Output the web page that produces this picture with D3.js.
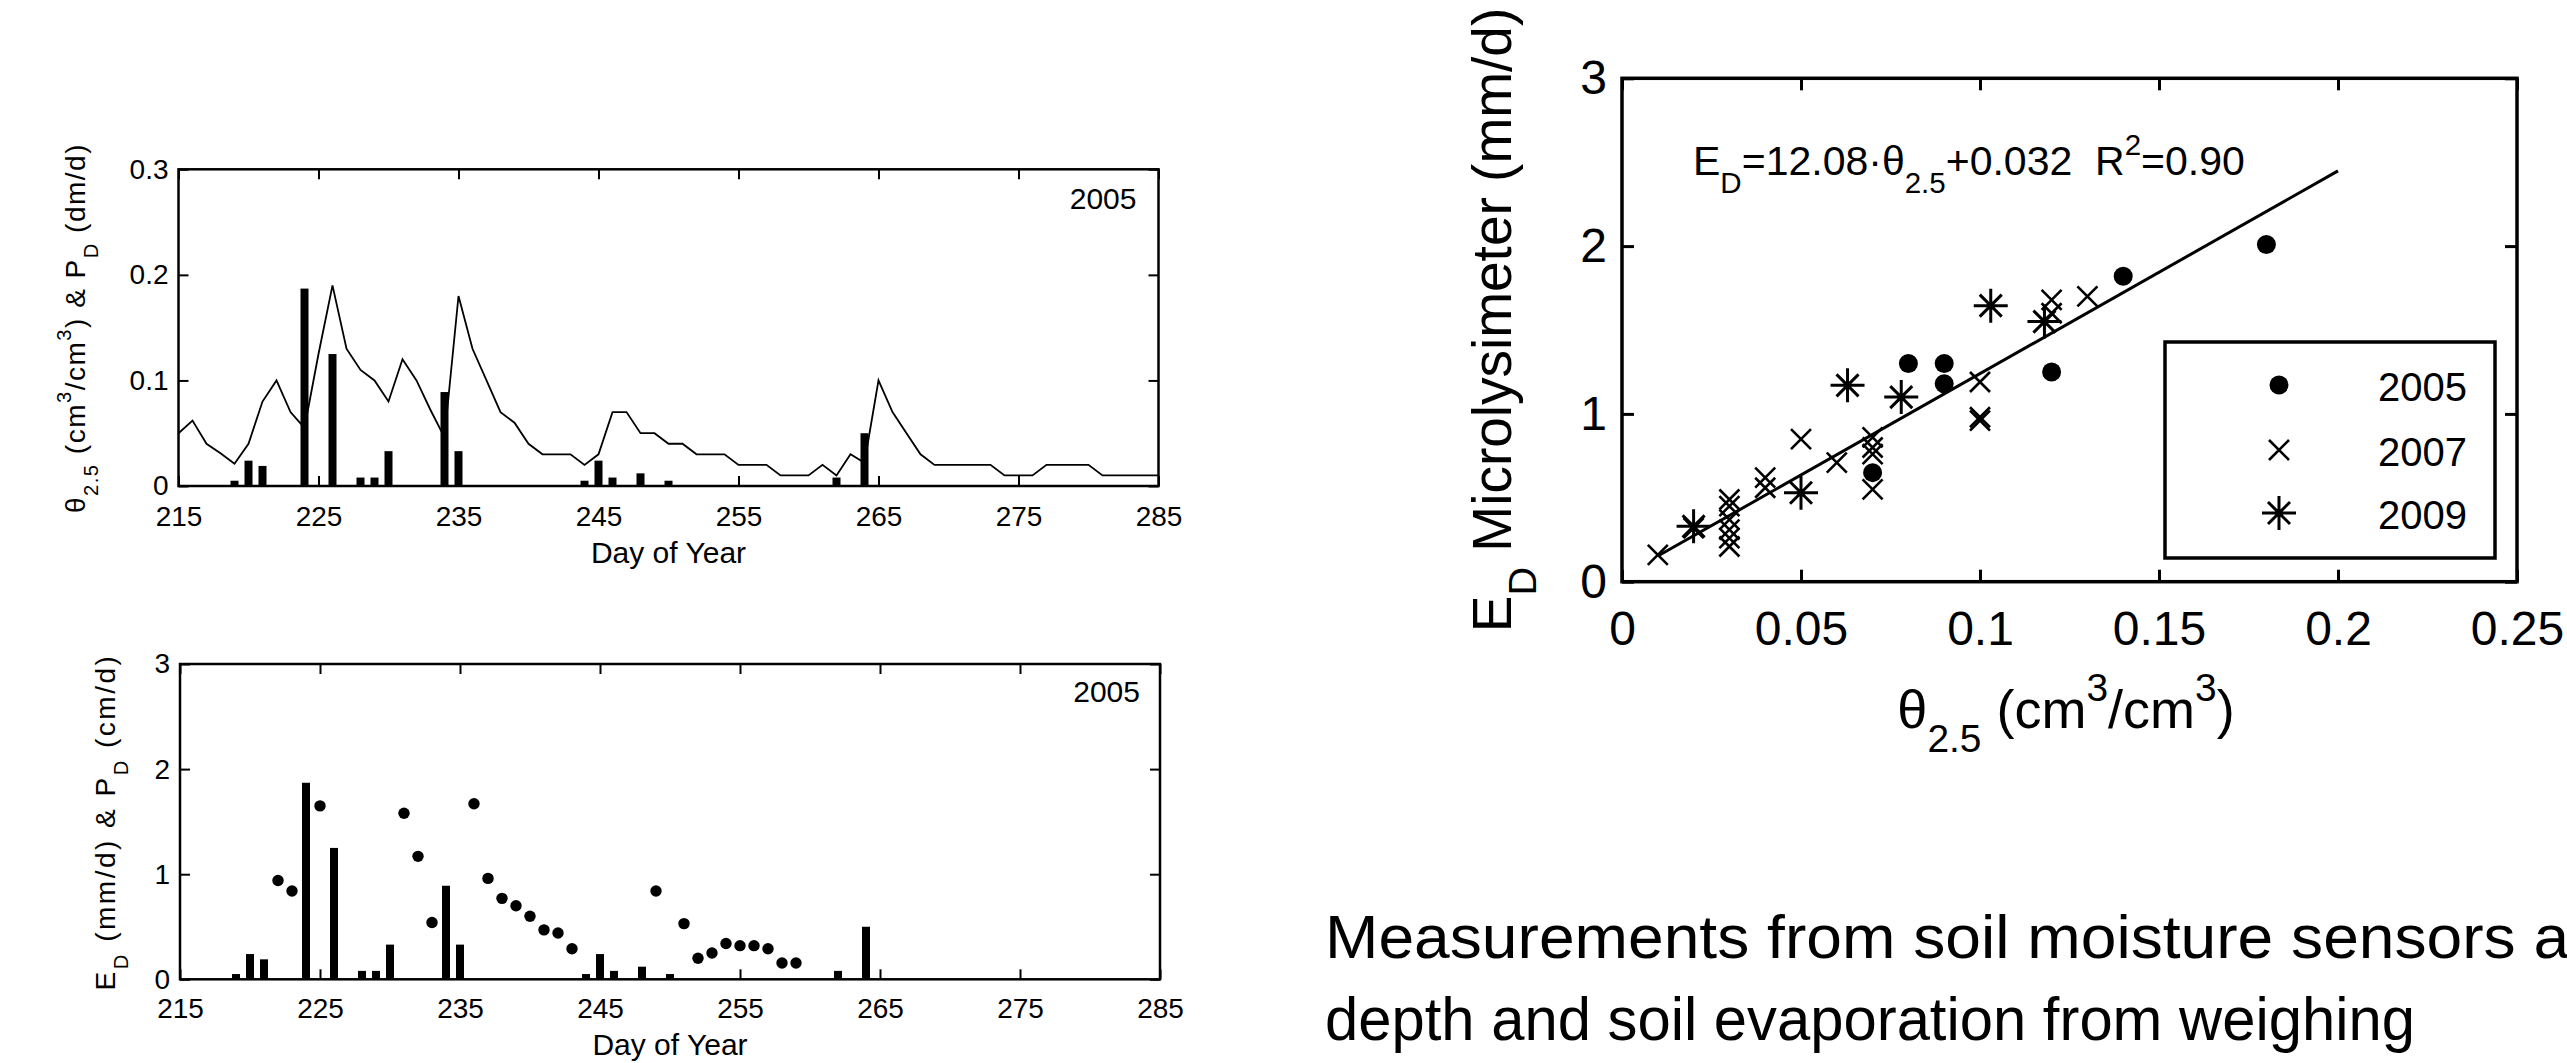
<!DOCTYPE html>
<html>
<head>
<meta charset="utf-8">
<script src="https://cdn.jsdelivr.net/npm/d3@7"></script>
<style>
  body { margin: 0; background: #fff; }
  text { font-family: "Liberation Sans", Arial, sans-serif; fill: #000; white-space: pre; }
</style>
</head>
<body>
<svg id="fig" width="2567" height="1063"></svg>
<script>
// soil water content at 2.5 cm, one value per day of year 215..285 (cm3/cm3)
var thetaDays = d3.range(215, 286);
var theta = [0.05, 0.062, 0.04, 0.031, 0.021, 0.04, 0.08, 0.10, 0.07, 0.055,
             0.125, 0.19, 0.13, 0.11, 0.10, 0.08, 0.12, 0.10, 0.072, 0.046,
             0.18, 0.13, 0.10, 0.07, 0.06, 0.04, 0.03, 0.03, 0.03, 0.02,
             0.03, 0.07, 0.07, 0.05, 0.05, 0.04, 0.04, 0.03, 0.03, 0.03,
             0.02, 0.02, 0.02, 0.01, 0.01, 0.01, 0.02, 0.01, 0.03, 0.022,
             0.10, 0.07, 0.05, 0.03, 0.02, 0.02, 0.02, 0.02, 0.02, 0.01,
             0.01, 0.01, 0.02, 0.02, 0.02, 0.02, 0.01, 0.01, 0.01, 0.01, 0.01];

// daily precipitation P_D (cm/d); top panel shows it in dm/d
var rainDays = [219, 220, 221, 224, 226, 228, 229, 230, 234, 235, 244, 245, 246, 248, 250, 262, 264];
var rainCm   = [0.05, 0.24, 0.19, 1.87, 1.25, 0.08, 0.08, 0.33, 0.89, 0.33, 0.05, 0.24, 0.08, 0.12, 0.05, 0.08, 0.50];

// microlysimeter evaporation E_D (mm/d), 2005
var evapDays = [222, 223, 225, 231, 232, 233, 236, 237, 238, 239, 240, 241, 242, 243,
                249, 251, 252, 253, 254, 255, 256, 257, 258, 259];
var evapMm   = [0.94, 0.84, 1.65, 1.58, 1.17, 0.54, 1.67, 0.96, 0.77, 0.70, 0.60, 0.47, 0.44, 0.29,
                0.84, 0.53, 0.20, 0.25, 0.34, 0.32, 0.32, 0.29, 0.155, 0.155];

// scatter: theta_2.5 vs E_D, per year
var th2005 = [0.18, 0.14, 0.08, 0.09, 0.09, 0.12, 0.07];
var ed2005 = [2.01, 1.82, 1.30, 1.30, 1.18, 1.25, 0.65];
var th2007 = [0.01, 0.02, 0.03, 0.03, 0.03, 0.03, 0.03, 0.03, 0.04, 0.04, 0.05,
              0.06, 0.07, 0.07, 0.07, 0.07, 0.10, 0.10, 0.10, 0.12, 0.12, 0.13];
var ed2007 = [0.16, 0.32, 0.49, 0.45, 0.37, 0.31, 0.26, 0.21, 0.62, 0.56, 0.85,
              0.71, 0.86, 0.80, 0.76, 0.55, 1.19, 0.98, 0.96, 1.68, 1.60, 1.70];
var th2009 = [0.02, 0.05, 0.063, 0.078, 0.103, 0.118];
var ed2009 = [0.33, 0.53, 1.17, 1.10, 1.645, 1.55];

var fitSlope = 12.08, fitIntercept = 0.032, fitRange = [0.01, 0.2];

var dayTicks = [215, 225, 235, 245, 255, 265, 275, 285];
var legendYears = ["2005", "2007", "2009"];

var svg = d3.select("#fig");
svg.append("rect").attr("width", 2567).attr("height", 1063).attr("fill", "#fff");

// text with sub/superscripts; parts = [[string, "sub"|"sup"|undefined], ...]
function rich(sel, parts, size) {
  var cur = 0;
  parts.forEach(function(p) {
    var off = p[1] === "sub" ? size * 0.45 : p[1] === "sup" ? -size * 0.5 : 0;
    sel.append("tspan")
      .attr("dy", off - cur)
      .attr("font-size", p[1] ? size * 0.72 : size)
      .text(p[0]);
    cur = off;
  });
  return sel;
}

function frame(x, y, o) {
  var xr = x.range(), yr = y.range();
  function clean(g) {
    g.select(".domain").remove();
    g.selectAll(".tick line").attr("stroke", "#000").attr("stroke-width", o.tickW);
    g.attr("font-size", o.font);
  }
  svg.append("g").attr("transform", "translate(0," + yr[0] + ")")
    .call(d3.axisBottom(x).tickValues(o.xticks).tickSize(-o.tick).tickPadding(o.xpad).tickFormat(String))
    .call(clean);
  svg.append("g").attr("transform", "translate(0," + yr[1] + ")")
    .call(d3.axisTop(x).tickValues(o.xticks).tickSize(-o.tick).tickFormat(""))
    .call(clean);
  svg.append("g").attr("transform", "translate(" + xr[0] + ",0)")
    .call(d3.axisLeft(y).tickValues(o.yticks).tickSize(-o.tick).tickPadding(o.ypad).tickFormat(String))
    .call(clean);
  svg.append("g").attr("transform", "translate(" + xr[1] + ",0)")
    .call(d3.axisRight(y).tickValues(o.yticks).tickSize(-o.tick).tickFormat(""))
    .call(clean);
  svg.selectAll("g.tick text").attr("fill", "#000");
  svg.append("rect")
    .attr("x", xr[0]).attr("y", yr[1])
    .attr("width", xr[1] - xr[0]).attr("height", yr[0] - yr[1])
    .attr("fill", "none").attr("stroke", "#000").attr("stroke-width", o.boxW);
}

// ---------- top-left: theta and P_D ----------
var xT = d3.scaleLinear().domain([215, 285]).range([178.5, 1158.5]);
var yT = d3.scaleLinear().domain([0, 0.3]).range([486, 169.3]);

svg.append("g").selectAll("rect").data(rainDays).join("rect")
  .attr("x", function(d) { return xT(d) - 4; })
  .attr("width", 8)
  .attr("y", function(d, i) { return yT(rainCm[i] / 10); })
  .attr("height", function(d, i) { return yT(0) - yT(rainCm[i] / 10); })
  .attr("fill", "#000");

svg.append("path")
  .datum(thetaDays)
  .attr("fill", "none").attr("stroke", "#000").attr("stroke-width", 1.8)
  .attr("d", d3.line().x(function(d) { return xT(d); }).y(function(d, i) { return yT(theta[i]); }));

frame(xT, yT, { xticks: dayTicks, yticks: [0, 0.1, 0.2, 0.3], tick: 10, tickW: 2, boxW: 2.5,
                font: 28, xpad: 20.5, ypad: 10 });

svg.append("text").attr("x", 1136.5).attr("y", 209.3).attr("text-anchor", "end")
  .attr("font-size", 30).text("2005");
svg.append("text").attr("x", 668.5).attr("y", 563).attr("text-anchor", "middle")
  .attr("font-size", 30).text("Day of Year");
rich(svg.append("text").attr("text-anchor", "middle").attr("letter-spacing", 1.5)
  .attr("transform", "translate(85,328) rotate(-90)"),
  [["θ"], ["2.5", "sub"], [" (cm"], ["3", "sup"], ["/cm"], ["3", "sup"], [") & P"], ["D", "sub"], [" (dm/d)"]], 28);

// ---------- bottom-left: E_D and P_D ----------
var xB = d3.scaleLinear().domain([215, 285]).range([180, 1160]);
var yB = d3.scaleLinear().domain([0, 3]).range([979.3, 664]);

svg.append("g").selectAll("rect").data(rainDays).join("rect")
  .attr("x", function(d) { return xB(d) - 4; })
  .attr("width", 8)
  .attr("y", function(d, i) { return yB(rainCm[i]); })
  .attr("height", function(d, i) { return yB(0) - yB(rainCm[i]); })
  .attr("fill", "#000");

svg.append("g").selectAll("circle").data(evapDays).join("circle")
  .attr("cx", function(d) { return xB(d); })
  .attr("cy", function(d, i) { return yB(evapMm[i]); })
  .attr("r", 5.7).attr("fill", "#000");

frame(xB, yB, { xticks: dayTicks, yticks: [0, 1, 2, 3], tick: 10, tickW: 2, boxW: 2.5,
                font: 28, xpad: 19, ypad: 10 });

svg.append("text").attr("x", 1140).attr("y", 701.7).attr("text-anchor", "end")
  .attr("font-size", 30).text("2005");
svg.append("text").attr("x", 670).attr("y", 1055).attr("text-anchor", "middle")
  .attr("font-size", 30).text("Day of Year");
rich(svg.append("text").attr("text-anchor", "middle").attr("letter-spacing", 2.5)
  .attr("transform", "translate(115,822) rotate(-90)"),
  [["E"], ["D", "sub"], [" (mm/d) & P"], ["D", "sub"], [" (cm/d)"]], 28);

// ---------- right: scatter ----------
var xS = d3.scaleLinear().domain([0, 0.25]).range([1622, 2517]);
var yS = d3.scaleLinear().domain([0, 3]).range([581.7, 78.3]);

function crossPath(cx, cy, s) {
  return "M" + (cx - s) + "," + (cy - s) + "L" + (cx + s) + "," + (cy + s) +
         "M" + (cx - s) + "," + (cy + s) + "L" + (cx + s) + "," + (cy - s);
}
function starPath(cx, cy) {
  return "M" + (cx - 17) + "," + cy + "H" + (cx + 17) +
         "M" + cx + "," + (cy - 17) + "V" + (cy + 17) + crossPath(cx, cy, 11);
}

svg.append("path")
  .attr("d", d3.line()([fitRange[0], fitRange[1]].map(function(t) {
    return [xS(t), yS(fitSlope * t + fitIntercept)];
  })))
  .attr("stroke", "#000").attr("stroke-width", 3).attr("fill", "none");

svg.append("g").selectAll("circle").data(th2005).join("circle")
  .attr("cx", function(d) { return xS(d); })
  .attr("cy", function(d, i) { return yS(ed2005[i]); })
  .attr("r", 9.5).attr("fill", "#000");

svg.append("g").selectAll("path").data(th2007).join("path")
  .attr("d", function(d, i) { return crossPath(xS(d), yS(ed2007[i]), 10); })
  .attr("stroke", "#000").attr("stroke-width", 2.6).attr("fill", "none");

svg.append("g").selectAll("path").data(th2009).join("path")
  .attr("d", function(d, i) { return starPath(xS(d), yS(ed2009[i])); })
  .attr("stroke", "#000").attr("stroke-width", 3).attr("fill", "none");

frame(xS, yS, { xticks: [0, 0.05, 0.1, 0.15, 0.2, 0.25], yticks: [0, 1, 2, 3], tick: 12, tickW: 3,
                boxW: 3.5, font: 48, xpad: 29, ypad: 15 });

rich(svg.append("text").attr("x", 1693).attr("y", 175),
  [["E"], ["D", "sub"], ["=12.08·θ"], ["2.5", "sub"], ["+0.032\u00a0\u00a0R"], ["2", "sup"], ["=0.90"]], 41);

rich(svg.append("text").attr("text-anchor", "middle")
  .attr("transform", "translate(1511,320) rotate(-90)"),
  [["E"], ["D", "sub"], [" Microlysimeter (mm/d)"]], 55);

rich(svg.append("text").attr("x", 2066).attr("y", 728).attr("text-anchor", "middle"),
  [["θ"], ["2.5", "sub"], [" (cm"], ["3", "sup"], ["/cm"], ["3", "sup"], [")"]], 54);

// legend
svg.append("rect").attr("x", 2165).attr("y", 342).attr("width", 330).attr("height", 216)
  .attr("fill", "#fff").attr("stroke", "#000").attr("stroke-width", 3.5);
var legY = [385, 450, 513];
svg.append("circle").attr("cx", 2279).attr("cy", legY[0]).attr("r", 9.5).attr("fill", "#000");
svg.append("path").attr("d", crossPath(2279, legY[1], 10))
  .attr("stroke", "#000").attr("stroke-width", 2.6).attr("fill", "none");
svg.append("path").attr("d", starPath(2279, legY[2]))
  .attr("stroke", "#000").attr("stroke-width", 3).attr("fill", "none");
svg.append("g").selectAll("text").data(legendYears).join("text")
  .attr("x", 2378).attr("y", function(d, i) { return legY[i] + 15.5; })
  .attr("font-size", 40).text(function(d) { return d; });

// ---------- caption text ----------
svg.append("text").attr("x", 1325).attr("y", 958).attr("font-size", 62)
  .attr("textLength", 1262).attr("lengthAdjust", "spacingAndGlyphs")
  .text("Measurements from soil moisture sensors at");
svg.append("text").attr("x", 1325).attr("y", 1040).attr("font-size", 62)
  .attr("textLength", 1090).attr("lengthAdjust", "spacingAndGlyphs")
  .text("depth and soil evaporation from weighing");
</script>
</body>
</html>
